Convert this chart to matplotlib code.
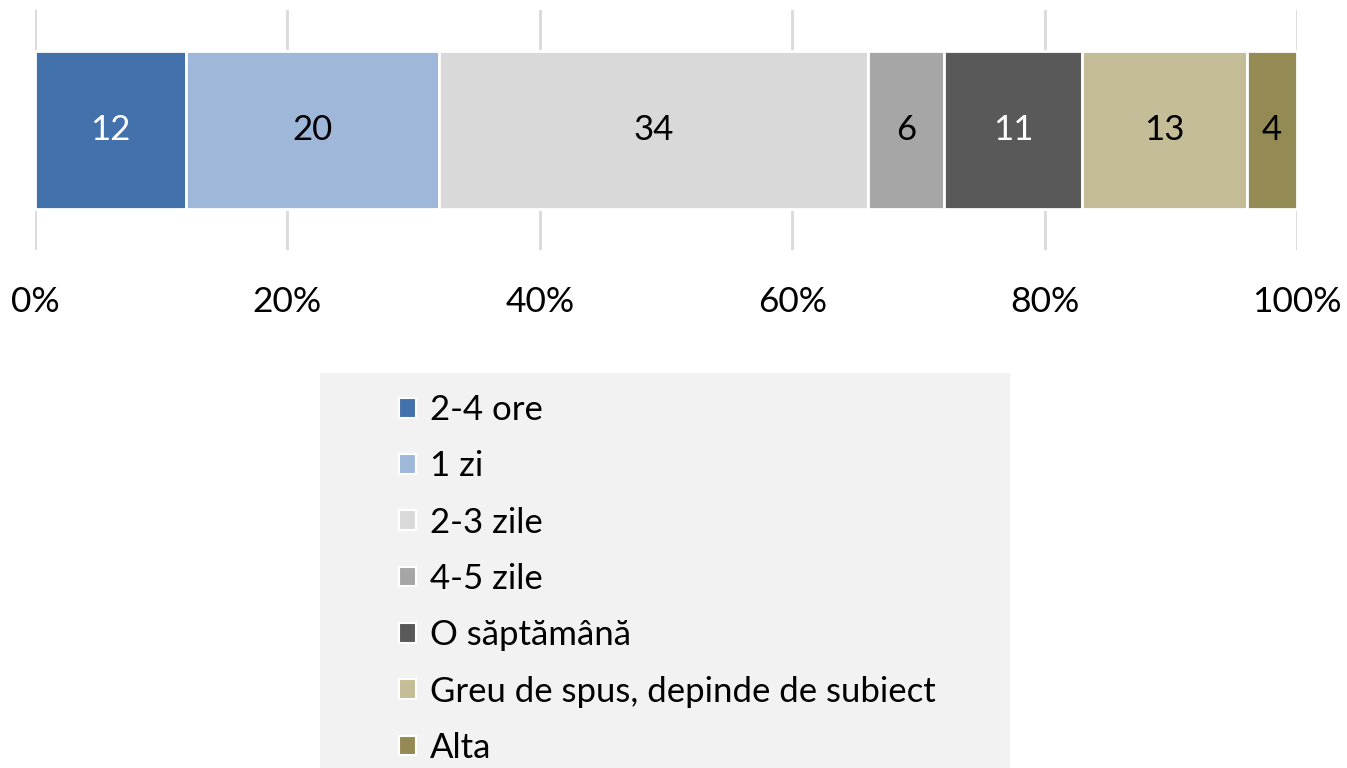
import matplotlib
matplotlib.use("Agg")
import matplotlib.pyplot as plt
from matplotlib.patches import Rectangle, Patch

categories = ["2-4 ore", "1 zi", "2-3 zile", "4-5 zile", "O săptămână",
              "Greu de spus, depinde de subiect", "Alta"]
values = [12, 20, 34, 6, 11, 13, 4]
colors = ["#4371AB", "#9FB8D9", "#D9D9D9", "#A6A6A6", "#595959", "#C4BD97", "#948A54"]
label_colors = ["white", "black", "black", "black", "white", "black", "black"]
xticks = [0, 20, 40, 60, 80, 100]
xtick_labels = ["0%", "20%", "40%", "60%", "80%", "100%"]

plt.rcParams['font.family'] = ['Lato', 'DejaVu Sans']

W, H = 1347, 768
fig = plt.figure(figsize=(W / 100, H / 100), dpi=100)
ax = fig.add_axes([35 / W, 1 - 250 / H, (1297 - 35) / W, 240 / H])

left = 0
for v, c, lc in zip(values, colors, label_colors):
    ax.barh(0, v, left=left, height=0.66, color=c, edgecolor="white",
            linewidth=2, zorder=3)
    ax.text(left + v / 2, 0, str(v), ha="center", va="center",
            fontsize=25, color=lc, zorder=4)
    left += v

ax.set_xlim(0, 100)
ax.set_ylim(-0.5, 0.5)
ax.set_xticks(xticks)
ax.set_xticklabels(xtick_labels, fontsize=25.5)
ax.tick_params(axis="x", length=0, pad=26)
ax.set_yticks([])
for s in ax.spines.values():
    s.set_visible(False)
ax.grid(axis="x", color="#D9D9D9", linewidth=2, zorder=0)
ax.set_axisbelow(True)

# legend background
fig.patches.append(Rectangle((320 / W, 0), (1010 - 320) / W, (768 - 373) / H,
                             transform=fig.transFigure, facecolor="#F2F2F2",
                             edgecolor="none", zorder=0))

handles = [Patch(facecolor=c, edgecolor="white", linewidth=1.5) for c in colors]
leg = fig.legend(handles, categories, loc="upper left",
                 bbox_to_anchor=(399 / W, 1 - 394 / H),
                 frameon=False, fontsize=25, handlelength=0.5, handleheight=0.5,
                 handletextpad=0.4, labelspacing=0.7, borderpad=0, borderaxespad=0)

fig.savefig("out.png", dpi=100)
